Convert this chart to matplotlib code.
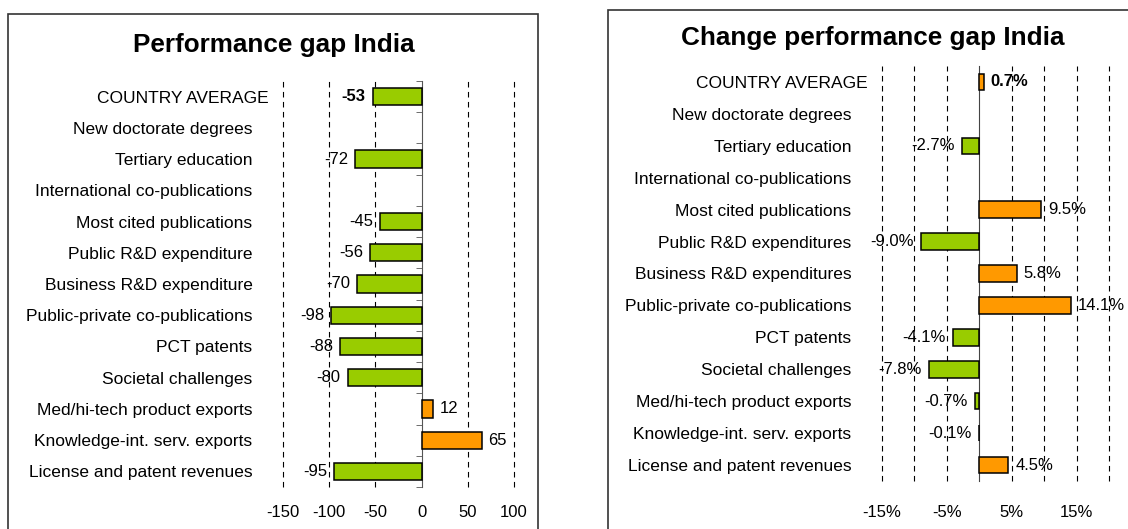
import numpy as np
import matplotlib.pyplot as plt
from matplotlib.patches import Rectangle
from matplotlib.transforms import ScaledTranslation

plt.rcParams['font.family'] = ['Liberation Sans', 'DejaVu Sans']

# data
gap_labels = ["COUNTRY AVERAGE", "New doctorate degrees", "Tertiary education",
              "International co-publications", "Most cited publications",
              "Public R&D expenditure", "Business R&D expenditure",
              "Public-private co-publications", "PCT patents", "Societal challenges",
              "Med/hi-tech product exports", "Knowledge-int. serv. exports",
              "License and patent revenues"]
gap_values = [-53, np.nan, -72, np.nan, -45, -56, -70, -98, -88, -80, 12, 65, -95]

chg_labels = ["COUNTRY AVERAGE", "New doctorate degrees", "Tertiary education",
              "International co-publications", "Most cited publications",
              "Public R&D expenditures", "Business R&D expenditures",
              "Public-private co-publications", "PCT patents", "Societal challenges",
              "Med/hi-tech product exports", "Knowledge-int. serv. exports",
              "License and patent revenues"]
chg_values = [0.7, np.nan, -2.7, np.nan, 9.5, -9.0, 5.8, 14.1, -4.1, -7.8, -0.7, -0.1, 4.5]

GREEN = "#99CC00"
ORANGE = "#FF9900"
FS = 12

W, H = 1128, 529
fig = plt.figure(figsize=(W / 100, H / 100), dpi=100)

# panel frames
fig.patches.append(Rectangle((8 / W, -0.1), 530 / W, 1.1 - 14 / H, transform=fig.transFigure,
                             fill=False, edgecolor="#333333", lw=1.2))
fig.patches.append(Rectangle((608 / W, -0.1), 0.6, 1.1 - 10 / H, transform=fig.transFigure,
                             fill=False, edgecolor="#333333", lw=1.2))

fig.text(274 / W, 1 - 45 / H, "Performance gap India", ha="center", va="center",
         fontsize=18.8, fontweight="bold")
fig.text(873 / W, 1 - 38 / H, "Change performance gap India", ha="center", va="center",
         fontsize=18.8, fontweight="bold")


def draw_panel(ax, labels, values, xlim, grid, ticks, ticklabels, bar_h, fmt, off, xpad):
    y = np.arange(len(labels))
    vals = np.array(values, dtype=float)
    colors = [ORANGE if v > 0 else GREEN for v in np.nan_to_num(vals)]
    ax.barh(y, vals, height=bar_h, color=colors, edgecolor="black", lw=1.1, zorder=3)
    for g in grid:
        ax.axvline(g, color="black", lw=0.8, dashes=(5, 4), zorder=1, clip_on=False)
    for i, v in enumerate(vals):
        if np.isnan(v):
            continue
        ax.annotate(fmt(v), (v, i), xytext=(off if v > 0 else -off, 0),
                    textcoords="offset points", ha="left" if v > 0 else "right",
                    va="center", fontsize=FS, fontweight="bold" if i == 0 else "normal",
                    zorder=4)
    ax.set_xlim(*xlim)
    ax.set_ylim(len(labels) - 0.5, -0.5)
    ax.tick_params(axis="both", which="major", length=0, labelsize=FS)
    ax.tick_params(axis="y", labelsize=12.5, pad=22)
    ax.tick_params(axis="x", pad=xpad)
    ax.set_yticks(y, labels)
    ax.set_xticks(ticks, ticklabels)
    for s in ["top", "bottom", "left"]:
        ax.spines[s].set_visible(False)
    ax.spines["right"].set_position(("data", 0))
    ax.set_facecolor("none")
    # first label sits a little further right, as in the original
    first = ax.get_yticklabels()[0]
    first.set_transform(first.get_transform() + ScaledTranslation(0.16, 0, fig.dpi_scale_trans))


ax1 = fig.add_axes([283 / W, 1 - 487 / H, 231 / W, 406 / H])
draw_panel(ax1, gap_labels, gap_values, (-150, 100), [-150, -100, -50, 50, 100],
           [-150, -100, -50, 0, 50, 100], ["-150", "-100", "-50", "0", "50", "100"],
           0.55, lambda v: f"{v:.0f}", 5, 13)
ax1.spines["right"].set_color("#555555")
ax1.set_yticks(np.arange(-0.5, 13, 1), minor=True)
ax1.tick_params(axis="y", which="minor", left=False, right=True, direction="in",
                length=4, color="#555555")

ax2 = fig.add_axes([882 / W, 1 - 481 / H, 227 / W, 415 / H])
draw_panel(ax2, chg_labels, chg_values, (-15, 20), [-15, -10, -5, 5, 10, 15, 20],
           [-15, -5, 5, 15], ["-15%", "-5%", "5%", "15%"],
           0.52, lambda v: f"{v:.1f}%", 5, 17)
ax2.spines["right"].set_color("#444444")
ax2.tick_params(axis="y", which="both", right=False)

fig.savefig("out.png", dpi=100)
